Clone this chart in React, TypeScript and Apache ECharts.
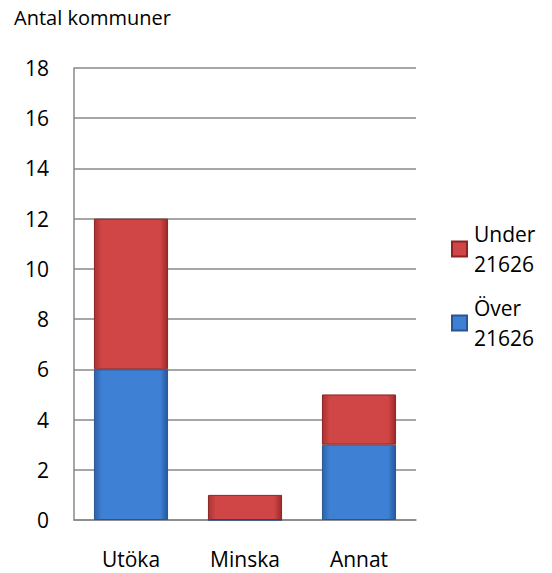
import React, { useEffect, useRef } from "react";
import * as echarts from "echarts";

const categories = ["Utöka", "Minska", "Annat"];
const overValues = [6, 0, 3];
const underValues = [6, 1, 2];
const yTicks = { min: 0, max: 18, interval: 2 };
const seriesNames = ["Under\n21626", "Över\n21626"];

const FONT = "'Open Sans', 'Noto Sans', sans-serif";

const grad = (edge: string, mid: string, edge2: string) =>
  new echarts.graphic.LinearGradient(0, 0, 1, 0, [
    { offset: 0, color: edge },
    { offset: 0.1, color: mid },
    { offset: 0.9, color: mid },
    { offset: 1, color: edge2 },
  ]);

export default function App() {
  const ref = useRef<HTMLDivElement>(null);
  useEffect(() => {
    if (!ref.current) return;
    document.body.style.margin = "0";
    const chart = echarts.init(ref.current, undefined, { renderer: "svg" });
    chart.setOption({
      animation: false,
      backgroundColor: "#fff",
      title: {
        text: "Antal kommuner",
        left: 14,
        top: 7,
        padding: 0,
        textStyle: { fontFamily: FONT, fontSize: 20, fontWeight: "normal", color: "#000" },
      },
      legend: {
        orient: "vertical",
        left: 446,
        top: 199,
        itemWidth: 15,
        itemHeight: 15,
        itemGap: -16,
        icon: "rect",
        data: [seriesNames[0], seriesNames[1]],
        textStyle: {
          fontFamily: FONT,
          fontSize: 21,
          color: "#000",
          lineHeight: 30,
          padding: [30, 0, 0, 2],
        },
      },
      grid: { left: 74, right: 136, top: 68, bottom: 53 },
      xAxis: {
        type: "category",
        data: categories,
        axisLine: { show: true, lineStyle: { color: "#888", width: 1.5 } },
        axisTick: { show: false },
        axisLabel: { fontFamily: FONT, fontSize: 21, color: "#000", margin: 28 },
      },
      yAxis: {
        type: "value",
        min: yTicks.min,
        max: yTicks.max,
        interval: yTicks.interval,
        axisLine: { show: true, lineStyle: { color: "#888", width: 1.5 } },
        axisTick: { show: false },
        splitLine: { lineStyle: { color: "#888", width: 1.5 } },
        axisLabel: { fontFamily: FONT, fontSize: 21, color: "#000", margin: 25 },
      },
      series: [
        {
          name: seriesNames[1],
          type: "bar",
          stack: "a",
          data: overValues,
          barWidth: "65%",
          itemStyle: {
            color: grad("#2C62AA", "#3E80D4", "#27569C"),
            borderColor: "#2A5590",
            borderWidth: 1,
          },
        },
        {
          name: seriesNames[0],
          type: "bar",
          stack: "a",
          data: underValues,
          barWidth: "65%",
          itemStyle: {
            color: grad("#AC3232", "#D04545", "#9C2A2A"),
            borderColor: "#8A2424",
            borderWidth: 1,
          },
        },
      ],
    });
    return () => chart.dispose();
  }, []);
  return <div ref={ref} style={{ width: 552, height: 573 }} />;
}
